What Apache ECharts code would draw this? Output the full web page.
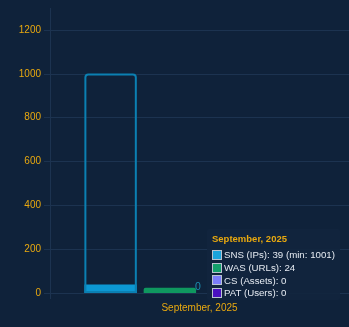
<!DOCTYPE html>
<html>
<head>
<meta charset="utf-8">
<script src="https://cdn.jsdelivr.net/npm/echarts@6/dist/echarts.min.js"></script>
<style>
  html, body { margin: 0; padding: 0; background: #0f223a; }
  #chart { width: 349px; height: 327px; }
</style>
</head>
<body>
<div id="chart"></div>
<script>
// Monthly usage per product, with the committed minimum for SNS
const months = ['September, 2025'];
const productNames = ['SNS (IPs)', 'WAS (URLs)', 'CS (Assets)', 'PAT (Users)'];
const snsValues = [39];
const wasValues = [24];
const csValues = [0];
const patValues = [0];
const snsMinimum = [1001];
const yAxisMax = 1300;
const yAxisStep = 200;

const barColors = ['#0b8bc0', '#0e8b57', '#7b7cfa', '#4a10c0'];
const markerColors = ['#1ba3db', '#13a06b', '#7b7cfa', '#4a10c0'];
const gold = '#e9a90f';
const gridLine = '#1c3350';

const chart = echarts.init(document.getElementById('chart'));

const sharedBar = { barGap: '13%', barCategoryGap: '23%' };

function tooltipHtml() {
  const month = months[0];
  const values = [snsValues[0], wasValues[0], csValues[0], patValues[0]];
  let html = '<div style="color:' + gold + ';font-weight:bold;font-size:9.5px;line-height:11px;margin-bottom:5px;">' + month + '</div>';
  productNames.forEach(function (name, i) {
    let text = name + ': ' + values[i];
    if (i === 0) text += ' (min: ' + snsMinimum[0] + ')';
    html += '<div style="display:flex;align-items:center;height:12.6px;font-size:9.7px;color:#e6ebf2;">' +
      '<span style="display:inline-block;width:8px;height:8px;background:' + markerColors[i] +
      ';border:1px solid #b9c3d0;margin-right:2px;"></span>' + text + '</div>';
  });
  return html;
}

chart.setOption({
  backgroundColor: '#0f223a',
  animation: false,
  grid: { left: 50, right: -7, top: 8, bottom: 34, containLabel: false },
  tooltip: {
    trigger: 'axis',
    alwaysShowContent: true,
    transitionDuration: 0,
    axisPointer: { type: 'none' },
    backgroundColor: 'rgba(17, 37, 62, 0.92)',
    borderWidth: 0,
    padding: [4, 5, 1, 5],
    extraCssText: 'box-shadow:none;border-radius:2px;font-family:Liberation Sans, Arial, sans-serif;line-height:1.2;',
    position: function () { return [207, 229]; },
    formatter: tooltipHtml
  },
  xAxis: [
    {
      type: 'category',
      data: months,
      axisLine: { show: true, lineStyle: { color: gridLine } },
      axisTick: { show: true, length: 6, lineStyle: { color: gridLine } },
      splitLine: { show: true, lineStyle: { color: gridLine } },
      axisLabel: { color: gold, fontSize: 10, margin: 10, fontFamily: 'Liberation Sans' }
    },
    { type: 'category', data: months, show: false }
  ],
  yAxis: {
    type: 'value',
    min: 0,
    max: yAxisMax,
    interval: yAxisStep,
    axisLine: { show: false },
    axisTick: { show: true, length: 6, lineStyle: { color: gridLine } },
    splitLine: { show: true, showMaxLine: false, lineStyle: { color: gridLine } },
    axisLabel: {
      color: gold, fontSize: 10, margin: 9, showMaxLabel: false, fontFamily: 'Liberation Sans',
      formatter: function (v) { return String(v); }
    }
  },
  series: [
    Object.assign({
      name: productNames[0], type: 'bar', data: snsValues, xAxisIndex: 0,
      itemStyle: { color: barColors[0] }
    }, sharedBar),
    Object.assign({
      name: productNames[1], type: 'bar', data: wasValues, xAxisIndex: 0,
      itemStyle: { color: barColors[1], borderRadius: [2, 2, 0, 0] }
    }, sharedBar),
    Object.assign({
      name: productNames[2], type: 'bar', data: csValues, xAxisIndex: 0,
      itemStyle: { color: barColors[2] },
      label: { show: true, position: 'left', distance: 2, offset: [0, -6], color: '#1b8fb0', fontSize: 10.5 }
    }, sharedBar),
    Object.assign({
      name: productNames[3], type: 'bar', data: patValues, xAxisIndex: 0,
      itemStyle: { color: barColors[3] }
    }, sharedBar),
    // committed minimum drawn as an outline over the SNS slot
    Object.assign({
      name: 'SNS minimum', type: 'bar', data: snsMinimum, xAxisIndex: 1, z: 3,
      tooltip: { show: false },
      itemStyle: { color: 'rgba(0,0,0,0)', borderColor: '#0b80b2', borderWidth: 2, borderRadius: [3, 3, 0, 0] }
    }, sharedBar),
    Object.assign({ name: 'slot2', type: 'bar', data: ['-'], xAxisIndex: 1 }, sharedBar),
    Object.assign({ name: 'slot3', type: 'bar', data: ['-'], xAxisIndex: 1 }, sharedBar),
    Object.assign({ name: 'slot4', type: 'bar', data: ['-'], xAxisIndex: 1 }, sharedBar)
  ]
});

chart.dispatchAction({ type: 'showTip', seriesIndex: 0, dataIndex: 0 });
</script>
</body>
</html>
